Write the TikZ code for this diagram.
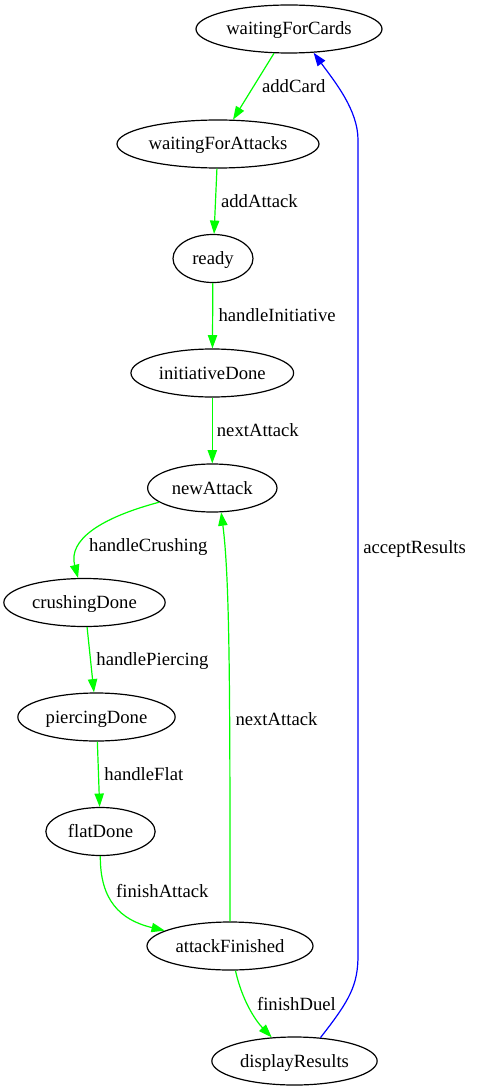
\documentclass[tikz,border=0pt]{standalone}
\usepackage{fontspec}
\setmainfont{Liberation Serif}
\usetikzlibrary{arrows.meta,shapes.geometric}
\definecolor{linkgreen}{RGB}{0,255,0}
\definecolor{linkblue}{RGB}{0,0,255}

\begin{document}
\begin{tikzpicture}[
  x=0.75pt,
  y=-0.75pt,
  state/.style={ellipse, draw=black, line width=0.9pt, inner sep=0pt,
    minimum height=36pt, text height=11pt, text depth=2pt,
    font=\fontsize{14}{16}\selectfont},
  edge label/.style={inner sep=0pt, text height=11pt, text depth=2pt,
    font=\fontsize{14}{16}\selectfont},
  green link/.style={draw=linkgreen, line width=0.9pt,
    -{Triangle[length=10pt,width=7pt,fill=linkgreen]}},
  blue link/.style={draw=linkblue, line width=0.9pt,
    -{Triangle[length=10pt,width=7pt,fill=linkblue]}}
]
  \path[use as bounding box] (0,0) rectangle (476,1091);

  % Setup states.
  \node[state, minimum width=139.5pt] (cards) at (289,29) {waitingForCards};
  \node[state, minimum width=151.5pt] (attacks) at (218,144) {waitingForAttacks};
  \node[state, minimum width=60pt] (ready) at (213,258.5) {ready};
  \node[state, minimum width=122pt] (initiative) at (212.3,373) {initiativeDone};
  \node[state, minimum width=97pt] (newatt) at (212.3,488) {newAttack};

  % One attack round.
  \node[state, minimum width=121pt] (crushing) at (84.5,602.5) {crushingDone};
  \node[state, minimum width=118pt] (piercing) at (96.5,717) {piercingDone};
  \node[state, minimum width=82pt] (flat) at (100.5,831.5) {flatDone};
  \node[state, minimum width=124.5pt] (finished) at (230,946) {attackFinished};
  \node[state, minimum width=124pt] (display) at (294.5,1061) {displayResults};

  \draw[green link] (cards) --
    node[edge label, right=6pt] {addCard} (attacks);
  \draw[green link] (attacks) --
    node[edge label, right=3.75pt] {addAttack} (ready);
  \draw[green link] (ready) --
    node[edge label, right=4pt] {handleInitiative} (initiative);
  \draw[green link] (initiative) --
    node[edge label, right=3pt] {nextAttack} (newatt);

  \draw[green link] (newatt) .. controls (100,518) and (68,540) .. (crushing)
    node[edge label, pos=0.67, right=5.5pt] {handleCrushing};
  \draw[green link] (crushing) --
    node[edge label, right=4pt] {handlePiercing} (piercing);
  \draw[green link] (piercing) --
    node[edge label, right=4pt] {handleFlat} (flat);
  \draw[green link] (flat) .. controls (100,900) and (120,920) .. (finished)
    node[edge label, pos=0.35, right=6pt, yshift=2pt] {finishAttack};

  % Loop back for the next attack, or finish the duel.
  \draw[green link] (finished.north) .. controls (230,700) and (230,580) ..
    (newatt.-70) node[edge label, pos=0.36, right=4pt] {nextAttack};
  \draw[green link] (finished) .. controls (242,1000) and (255,1020) .. (display)
    node[edge label, pos=0.5, right=5pt, yshift=3pt] {finishDuel};

  \draw[blue link] (display.42) .. controls (350,1000) and (358,985) .. (358,955)
    -- node[edge label, right=3.5pt] {acceptResults} (358,140)
    .. controls (358,110) and (335,82) .. (cards.-44);
\end{tikzpicture}
\end{document}
